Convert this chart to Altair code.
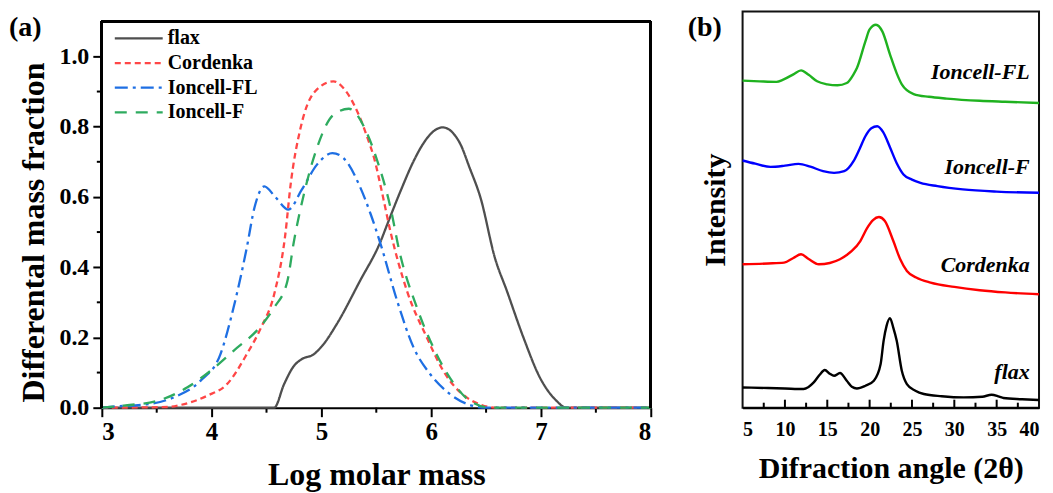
import altair as alt
import pandas as pd

FONT = "Liberation Serif"

# ---------------- panel (a): molar mass distributions ----------------
series_a = ["flax", "Cordenka", "Ioncell-FL", "Ioncell-F"]
colors_a = ["#4f4f4f", "#ff4646", "#1e6fe3", "#2eab5f"]
dashes_a = [[1, 0], [6, 4], [13, 5, 3, 5], [12, 9]]

flax_x = [3.0, 4.5, 4.57, 4.66, 4.75, 4.82, 4.93, 5.02, 5.14, 5.35, 5.54, 5.6, 5.72, 5.84,
          5.92, 6.0, 6.106, 6.26, 6.35, 6.45, 6.58, 6.69, 6.84, 6.99, 7.14, 7.23, 8.0]
flax_y = [0, 0, 0, 0.067, 0.119, 0.138, 0.152, 0.181, 0.238, 0.36, 0.474, 0.522, 0.616, 0.702,
          0.748, 0.781, 0.798, 0.754, 0.683, 0.597, 0.427, 0.332, 0.2, 0.086, 0.02, 0, 0]

cord_x = [3.0, 3.6, 3.72, 3.96, 4.14, 4.32, 4.45, 4.57, 4.67, 4.72, 4.81, 4.93, 5.11,
          5.2, 5.34, 5.42, 5.48, 5.55, 5.63, 5.78, 5.96, 6.11, 6.32, 6.6, 8.0]
cord_y = [0, 0.002, 0.008, 0.034, 0.067, 0.152, 0.228, 0.323, 0.49, 0.636, 0.796, 0.896, 0.929,
          0.91, 0.834, 0.768, 0.711, 0.616, 0.5, 0.332, 0.2, 0.105, 0.03, 0.0, 0]

ifl_x = [3.0, 3.1, 3.42, 3.66, 3.9, 4.08, 4.2, 4.32, 4.39, 4.48, 4.58, 4.70, 4.82, 4.96,
         5.1, 5.2, 5.35, 5.45, 5.54, 5.69, 5.84, 5.99, 6.17, 6.35, 6.5, 8.0]
ifl_y = [0, 0.003, 0.01, 0.03, 0.077, 0.152, 0.285, 0.455, 0.569, 0.63, 0.6, 0.564, 0.62, 0.692,
         0.725, 0.711, 0.63, 0.55, 0.465, 0.304, 0.171, 0.096, 0.039, 0.008, 0, 0]

if_x = [3.0, 3.2, 3.51, 3.78, 3.99, 4.2, 4.45, 4.57, 4.69, 4.75, 4.84, 4.96, 5.11, 5.25,
        5.42, 5.51, 5.63, 5.71, 5.87, 6.02, 6.21, 6.35, 6.55, 8.0]
if_y = [0, 0.006, 0.02, 0.058, 0.105, 0.162, 0.233, 0.285, 0.36, 0.474, 0.607, 0.74, 0.834, 0.851,
        0.778, 0.702, 0.569, 0.446, 0.285, 0.171, 0.067, 0.02, 0, 0]

x_ticks_a = [3, 4, 5, 6, 7, 8]
x_minor_a = [3.5, 4.5, 5.5, 6.5, 7.5]
y_ticks_a = [0.0, 0.2, 0.4, 0.6, 0.8, 1.0]
y_minor_a = [0.1, 0.3, 0.5, 0.7, 0.9]

# ---------------- panel (b): XRD patterns ----------------
series_b = ["flax", "Cordenka", "Ioncell-F", "Ioncell-FL"]
colors_b = ["#000000", "#ff0000", "#0000ff", "#1fb21f"]

flaxb_x = [5, 8, 10, 12.2, 13.4, 14.1, 14.7, 15.3, 15.8, 16.5, 17.3, 17.9, 18.5, 19.5, 20.5,
           21.3, 21.65, 22.0, 22.4, 22.8, 23.2, 23.8, 24.4, 25.4, 26.4, 28.5, 31.1, 33.3,
           34.4, 35.3, 35.8, 38, 40]
flaxb_y = [20.3, 19.7, 19.2, 18.7, 25.3, 33, 37.7, 34, 32, 34.7, 27, 21, 19.3, 22, 27,
           43.7, 67, 82, 89.7, 80, 67, 37, 23.7, 17, 13.7, 11.5, 10.3, 11,
           13, 11, 9.7, 8.5, 7.7]

cordb_x = [5, 8, 9.9, 11, 11.9, 12.8, 14, 15.3, 16.5, 17.3, 17.9, 18.9, 19.7, 20.4, 21.1,
           21.8, 22.8, 23.6, 24.4, 25.5, 27.2, 30, 33, 36, 40]
cordb_y = [143.7, 144.5, 145.3, 150, 153.7, 149, 143.7, 145, 148.7, 153, 157, 167, 180, 188, 191,
           187, 167, 149, 137, 130.5, 125.3, 121, 117.7, 115.5, 113.7]

ifb_x = [5, 6.5, 8.3, 10, 11.6, 13, 14.5, 15.8, 17, 18.1, 18.8, 19.5, 20.2, 20.9, 21.6,
         22.4, 23.2, 24, 25, 26, 28, 31, 35, 40]
ifb_y = [247.7, 244.5, 241.3, 242.5, 244.3, 241.5, 237, 235.3, 237, 247, 259, 272, 280, 282, 276,
         261, 245, 233.7, 228.5, 225.3, 222, 218.7, 216.5, 215.3]

iflb_x = [5, 7, 9, 9.8, 11, 11.9, 12.8, 13.8, 15, 16.2, 17.3, 18.1, 18.5, 19.5, 20, 20.75,
          21.5, 22.4, 23.2, 23.8, 25.2, 27, 29.1, 33, 36, 40]
iflb_y = [327.7, 327, 326.5, 328.7, 334, 338, 333.5, 327, 324, 323, 325.3, 334, 340.3, 367, 379, 383.7,
          377, 354, 335, 324, 314.3, 311.5, 309.7, 307.5, 306.5, 305.3]

x_ticks_b = [5, 10, 15, 20, 25, 30, 35, 40]
x_minor_b = [7.5, 12.5, 17.5, 22.5, 27.5, 32.5, 37.5]

label_names_b = ["Ioncell-FL", "Ioncell-F", "Cordenka", "flax"]
label_x_b = [38.9, 38.9, 38.9, 38.9]
label_y_b = [329, 234, 136.3, 29]

# ---------------- tables ----------------
rows = []
for name, xs, ys in zip(series_a, [flax_x, cord_x, ifl_x, if_x], [flax_y, cord_y, ifl_y, if_y]):
    for i, (xv, yv) in enumerate(zip(xs, ys)):
        rows.append({"series": name, "M": xv, "f": yv, "order": i})
df_a = pd.DataFrame(rows)

rows = []
for name, xs, ys in zip(series_b, [flaxb_x, cordb_x, ifb_x, iflb_x], [flaxb_y, cordb_y, ifb_y, iflb_y]):
    for i, (xv, yv) in enumerate(zip(xs, ys)):
        rows.append({"sample": name, "angle": xv, "I": yv, "order": i})
df_b = pd.DataFrame(rows)

W_A, W_B, H = 550, 297, 397
AX = "black"

# ---------------- panel (a) chart ----------------
sx_a = alt.Scale(domain=[3, 8], nice=False, zero=False)
sy_a = alt.Scale(domain=[0, 1.128], nice=False, zero=False)

x_a = alt.X("M:Q", scale=sx_a,
            axis=alt.Axis(values=x_ticks_a, format="d", title="Log molar mass", grid=False,
                          labelFont=FONT, labelFontSize=25, labelFontWeight="bold", labelColor=AX,
                          labelPadding=3, tickSize=9, tickWidth=2, tickColor=AX,
                          domainColor=AX, domainWidth=2,
                          titleFont=FONT, titleFontSize=32, titleFontWeight="bold", titleColor=AX,
                          titleBaseline="alphabetic", titleY=77))
y_a = alt.Y("f:Q", scale=sy_a,
            axis=alt.Axis(values=y_ticks_a, format=".1f", title="Differental mass fraction", grid=False,
                          domain=False,
                          labelFont=FONT, labelFontSize=24, labelFontWeight="bold", labelColor=AX,
                          labelPadding=4, tickSize=9, tickWidth=2, tickColor=AX,
                          titleFont=FONT, titleFontSize=32, titleFontWeight="bold", titleColor=AX,
                          titleBaseline="alphabetic", titleAngle=270, titleX=-58, titleY=221))

base_a = alt.Chart(df_a)
lines_a = base_a.mark_line(strokeWidth=2.3, interpolate="monotone").encode(
    x=x_a, y=y_a,
    color=alt.Color("series:N", scale=alt.Scale(domain=series_a, range=colors_a), legend=None),
    strokeDash=alt.StrokeDash("series:N", scale=alt.Scale(domain=series_a, range=dashes_a), legend=None),
    order="order:Q",
)

frame_left = base_a.mark_rule(color=AX, strokeWidth=2).encode(
    x=alt.X(datum=3, scale=sx_a), y=alt.Y(datum=0, scale=sy_a), y2=alt.Y2(datum=1.1))
frame_top = base_a.mark_rule(color=AX, strokeWidth=2).encode(
    x=alt.X(datum=3, scale=sx_a), x2=alt.X2(datum=8), y=alt.Y(datum=1.1, scale=sy_a))
frame_right = base_a.mark_rule(color=AX, strokeWidth=2).encode(
    x=alt.X(datum=8, scale=sx_a), y=alt.Y(datum=0, scale=sy_a), y2=alt.Y2(datum=1.1))

xminor_a = alt.Chart(pd.DataFrame({"M": x_minor_a})).mark_rule(color=AX, strokeWidth=2).encode(
    x=alt.X("M:Q", scale=sx_a), y=alt.value(H), y2=alt.value(H + 5))
yminor_a = alt.Chart(pd.DataFrame({"f": y_minor_a})).mark_rule(color=AX, strokeWidth=2).encode(
    y=alt.Y("f:Q", scale=sy_a), x=alt.value(0), x2=alt.value(-5))

legend_layers = []
for i, (s, c, d) in enumerate(zip(series_a, colors_a, dashes_a)):
    yy = 27 + 24.7 * i
    legend_layers.append(
        alt.Chart(pd.DataFrame({"s": [s]})).mark_rule(color=c, strokeWidth=2.3, strokeDash=d).encode(
            x=alt.value(13), x2=alt.value(61), y=alt.value(yy)))
    legend_layers.append(
        alt.Chart(pd.DataFrame({"s": [s]})).mark_text(
            font=FONT, fontSize=20, fontWeight="bold", color=AX, align="left", baseline="middle").encode(
            x=alt.value(66), y=alt.value(yy), text="s:N"))

tag_a = alt.Chart(pd.DataFrame({"t": ["(a)"]})).mark_text(
    font=FONT, fontSize=28, fontWeight="bold", color=AX, align="left", baseline="alphabetic").encode(
    x=alt.value(-93), y=alt.value(25), text="t:N")

panel_a = alt.layer(xminor_a, yminor_a, lines_a, frame_left, frame_top, frame_right,
                    *legend_layers, tag_a).properties(width=W_A, height=H)

# ---------------- panel (b) chart ----------------
sx_b = alt.Scale(domain=[5, 40], nice=False, zero=False)
sy_b = alt.Scale(domain=[0, 397], nice=False, zero=False)

x_b = alt.X("angle:Q", scale=sx_b,
            axis=alt.Axis(values=x_ticks_b, format="d", title="Difraction angle (2θ)", grid=False,
                          ticks=False, labelFont=FONT, labelFontSize=20, labelFontWeight="bold",
                          labelColor=AX, labelPadding=12, domainColor=AX, domainWidth=2,
                          titleFont=FONT, titleFontSize=30, titleFontWeight="bold", titleColor=AX,
                          titleBaseline="alphabetic", titleY=70))
y_b = alt.Y("I:Q", scale=sy_b,
            axis=alt.Axis(title="Intensity", grid=False, labels=False, ticks=False, domain=False,
                          titleFont=FONT, titleFontSize=30, titleFontWeight="bold", titleColor=AX,
                          titleBaseline="alphabetic", titleAngle=270, titleX=-18))

lines_b = alt.Chart(df_b).mark_line(strokeWidth=2.4, interpolate="monotone").encode(
    x=x_b, y=y_b,
    color=alt.Color("sample:N", scale=alt.Scale(domain=series_b, range=colors_b), legend=None),
    order="order:Q",
)

major_b = alt.Chart(pd.DataFrame({"angle": x_ticks_b[1:-1]})).mark_rule(color=AX, strokeWidth=2).encode(
    x=alt.X("angle:Q", scale=sx_b), y=alt.value(H), y2=alt.value(H - 8))
minor_b = alt.Chart(pd.DataFrame({"angle": x_minor_b})).mark_rule(color=AX, strokeWidth=2).encode(
    x=alt.X("angle:Q", scale=sx_b), y=alt.value(H), y2=alt.value(H - 5))

labels_b = alt.Chart(pd.DataFrame({"name": label_names_b, "angle": label_x_b, "I": label_y_b})).mark_text(
    font=FONT, fontSize=22, fontWeight="bold", fontStyle="italic", color=AX,
    align="right", baseline="alphabetic").encode(
    x=alt.X("angle:Q", scale=sx_b), y=alt.Y("I:Q", scale=sy_b), text="name:N")

tag_b = alt.Chart(pd.DataFrame({"t": ["(b)"]})).mark_text(
    font=FONT, fontSize=28, fontWeight="bold", color=AX, align="left", baseline="alphabetic").encode(
    x=alt.value(-55), y=alt.value(25), text="t:N")

panel_b = alt.layer(lines_b, major_b, minor_b, labels_b, tag_b).properties(
    width=W_B, height=H, view=alt.ViewBackground(stroke="#111111", strokeWidth=2))

chart = alt.hconcat(panel_a, panel_b, spacing=30).resolve_scale(
    color="independent", strokeDash="independent"
).properties(
    padding={"left": 0, "top": 2, "right": 0, "bottom": 0}
).configure_view(stroke="transparent")

chart.save("out.html", embed_options={"renderer": "svg", "actions": False})
